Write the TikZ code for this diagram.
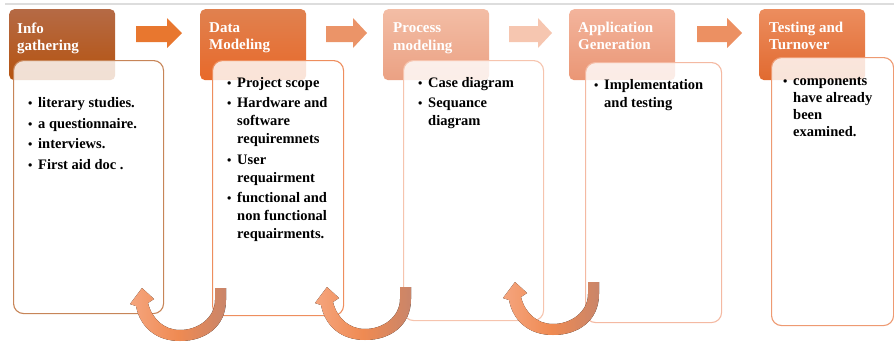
\documentclass[tikz,border=0pt]{standalone}
\usepackage{fontspec}
\setmainfont{Liberation Serif}
\definecolor{hAt}{HTML}{B56A45}\definecolor{hAb}{HTML}{B5530F}
\definecolor{hBt}{HTML}{E0814F}\definecolor{hBb}{HTML}{E8692A}
\definecolor{hCt}{HTML}{F3BDA5}\definecolor{hCb}{HTML}{EBA183}
\definecolor{hDt}{HTML}{F3B49C}\definecolor{hDb}{HTML}{EA9675}
\definecolor{hEt}{HTML}{EC8D5E}\definecolor{hEb}{HTML}{E16A30}
\definecolor{bA}{HTML}{C78558}\definecolor{bB}{HTML}{EE8E5E}
\definecolor{bC}{HTML}{F6C4AE}\definecolor{bD}{HTML}{F4B9A2}
\definecolor{bE}{HTML}{EE9A72}
\definecolor{aA}{HTML}{E8772F}\definecolor{aB}{HTML}{EB9468}
\definecolor{aC}{HTML}{F6C6B0}\definecolor{aD}{HTML}{EC9062}
\definecolor{uL}{HTML}{F5A57E}\definecolor{uM}{HTML}{EF8A52}\definecolor{uR}{HTML}{C9856A}
\definecolor{topline}{HTML}{DDDDDD}
\newcommand\bitem[1]{\par\noindent\makebox[10pt][l]{\scalebox{0.85}{\textbullet}}\parbox[t]{125pt}{\raggedright\rule{0pt}{13pt}#1\rule[-4pt]{0pt}{4pt}}\par}
\newcommand\blist[2][18pt]{\parbox[t]{135pt}{\fontsize{14.5}{#1}\selectfont\bfseries\setlength\parskip{2.5pt}\setlength\lineskip{1pt}#2}}
\begin{document}
\begin{tikzpicture}[x=1pt,y=-1pt,
 hdr/.style={rounded corners=5pt, anchor=north west, minimum width=106pt, minimum height=71pt, inner sep=0pt, draw=none},
 cbox/.style={rounded corners=10pt, anchor=north west, inner sep=0pt, fill=white, fill opacity=0.82, line width=1.1pt},
 htxt/.style={anchor=north west, inner sep=0pt, align=left, text=white, font=\fontsize{15}{17.5}\selectfont\bfseries},
 btxt/.style={anchor=base west, inner sep=0pt},
 uarr/.style={left color=uL, right color=uR, middle color=uM},
 uarrow/.pic={\fill[uarr] (215,288) -- (226,288) -- (226,300) .. controls (226,326) and (206,341) .. (180,341) .. controls (156,341) and (140,327) .. (136,306) -- (130,304) -- (142,288) -- (154,299) -- (148,303) .. controls (152,319) and (164,330) .. (180,330) .. controls (198,330) and (215,318) .. (215,300) -- cycle;},
]
\useasboundingbox (0,0) rectangle (894,341);
\draw[topline, line width=2pt] (5,4) -- (894,4);
% headers
\node[hdr, top color=hAt, bottom color=hAb] (h1) at (9,9) {};
\node[hdr, top color=hBt, bottom color=hBb] (h2) at (200,9) {};
\node[hdr, top color=hCt, bottom color=hCb] (h3) at (383,9) {};
\node[hdr, top color=hDt, bottom color=hDb] (h4) at (569,9) {};
\node[hdr, top color=hEt, bottom color=hEb] (h5) at (759,9) {};
\node[htxt] (t1) at (17,22) {\rule{0pt}{11pt}Info\\gathering};
\node[htxt] (t2) at (209,21) {\rule{0pt}{11pt}Data\\Modeling};
\node[htxt] (t3) at (393,21.5) {\rule{0pt}{11pt}Process\\modeling};
\node[htxt] (t4) at (578,21) {\rule{0pt}{11pt}Application\\Generation};
\node[htxt] (t5) at (769,21) {\rule{0pt}{11pt}Testing and\\Turnover};
% content boxes
\node[cbox, draw=bA, minimum width=150pt, minimum height=253pt] (c1) at (13,60) {};
\node[cbox, draw=bB, minimum width=131pt, minimum height=255pt] (c2) at (212,60) {};
\node[cbox, draw=bC, minimum width=140pt, minimum height=260pt] (c3) at (403,60) {};
\node[cbox, draw=bD, minimum width=136pt, minimum height=260pt] (c4) at (585,62) {};
\node[cbox, draw=bE, minimum width=122pt, minimum height=268pt] (c5) at (771,57) {};
% content texts
\node[btxt] (x1) at (28,107.5) {\blist{\bitem{literary studies.}\bitem{a questionnaire.}\bitem{interviews.}\bitem{First aid doc .}}};
\node[btxt] (x2) at (227,87) {\blist{\bitem{Project scope}\bitem{Hardware and\\software\\requiremnets}\bitem{User\\requairment}\bitem{functional and\\non functional\\requairments.}}};
\node[btxt] (x3) at (418,87) {\blist{\bitem{Case diagram}\bitem{Sequance\\diagram}}};
\node[btxt] (x4) at (594,89) {\blist{\bitem{Implementation\\and testing}}};
\node[btxt] (x5) at (783,85) {\blist[17pt]{\bitem{components\\have already\\been\\examined.}}};
% block arrows between headers
\fill[aA] (136,26) -- (167,26) -- (167,18) -- (182,33) -- (167,48) -- (167,42) -- (136,42) -- cycle;
\fill[aB] (326,26) -- (353,26) -- (353,18) -- (367,33) -- (353,48) -- (353,42) -- (326,42) -- cycle;
\fill[aC] (509,26) -- (538,26) -- (538,18) -- (552,33) -- (538,48) -- (538,42) -- (509,42) -- cycle;
\fill[aD] (697,26) -- (727,26) -- (727,18) -- (742,33) -- (727,48) -- (727,42) -- (697,42) -- cycle;
% U arrows
\pic (u1) at (0,0) {uarrow};
\pic (u2) at (185,-1) {uarrow};
\pic (u3) at (373,-6) {uarrow};
\end{tikzpicture}
\end{document}
